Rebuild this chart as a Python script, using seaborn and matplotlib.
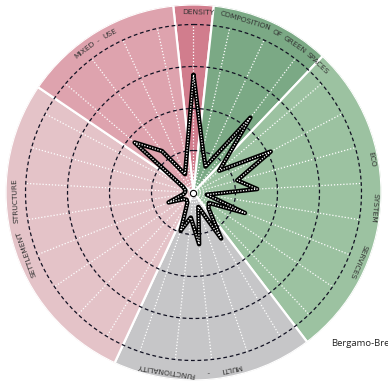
import numpy as np
import pandas as pd
import matplotlib
matplotlib.use("Agg")
import matplotlib.pyplot as plt
import seaborn as sns

# ---- data -------------------------------------------------------------
categories = ["DENSITY", "COMPOSITION OF GREEN SPACES", "ECO SYSTEM SERVICES",
              "MULTI - FUNCTIONALITY", "SETTLEMENT STRUCTURE", "MIXED - USE"]
category_sizes = [1, 3, 8, 5, 8, 4]
category_colors = ["#D17D8D", "#7BA985", "#9CC2A1", "#C6C6C8", "#E4C3C8", "#DEA3AE"]

# indicator scores (0-100), clockwise from north
scores = [70, 26, 17, 56, 20, 52, 27, 38, 8, 33, 11, 13, 32, 9, 31, 15, 24,
          7, 6, 7, 16, 6, 5, 5, 7, 46, 31, 12, 20]

ring_levels = [25, 50, 75, 100]
place_label = "Bergamo-Bre"

# rim label groups: (words, centre bearing deg, radius px)
label_groups = [(["DENSITY"], 1.5, 180),
                (["COMPOSITION", "OF", "GREEN", "SPACES"], 28.3, 179),
                (["ECO"], 79.5, 181), (["SYSTEM"], 95.0, 181), (["SERVICES"], 112.8, 179),
                (["MULTI"], 168.0, 180), (["-"], 175.3, 180), (["FUNCTIONALITY"], 188.8, 180),
                (["SETTLEMENT"], 250.0, 178), (["STRUCTURE"], 267.5, 178),
                (["MIXED"], 322.6, 179), (["-"], 328.0, 179), (["USE"], 332.2, 179)]

# ---- figure -------------------------------------------------------------
sns.set_theme(style="white")
W, H = 388, 382
fig = plt.figure(figsize=(W / 100, H / 100), dpi=100)
cx, cy, R = 193.5, 192.5, 188.0
ax = fig.add_axes([(cx - R) / W, (H - cy - R) / H, 2 * R / W, 2 * R / H],
                  projection="polar")
px_per_unit = 168.0 / 100.0
rmax = R / px_per_unit
ax.set_theta_zero_location("N")
ax.set_theta_direction(-1)
ax.set_ylim(0, rmax)
ax.set_xticks([])
ax.set_yticks([])
ax.grid(False)
ax.spines["polar"].set_visible(False)
ax.patch.set_alpha(0)

n = len(scores)
step = 2 * np.pi / n
thetas = np.arange(n) * step

# sectors
starts = np.cumsum([0] + category_sizes[:-1])
centers = [(s + (c - 1) / 2.0) * step for s, c in zip(starts, category_sizes)]
widths = [c * step for c in category_sizes]
ax.bar(centers, [rmax] * len(centers), width=widths, bottom=0,
       color=category_colors, edgecolor="white", linewidth=1.6, zorder=1)

# spokes
for t in thetas:
    ax.plot([t, t], [0, ring_levels[-1]], color="white", lw=0.9,
            ls=(0, (1, 1.5)), zorder=2)
# rings
tt = np.linspace(0, 2 * np.pi, 600)
for r in ring_levels:
    ax.plot(tt, np.full_like(tt, r), color="#111122", lw=0.9,
            ls=(0, (3, 2.2)), zorder=3)

# radar line
df = pd.DataFrame({"theta": np.append(thetas, thetas[0]),
                   "score": scores + scores[:1]})
sns.lineplot(data=df, x="theta", y="score", sort=False, estimator=None, ax=ax,
             color="black", lw=3.2, zorder=5, solid_joinstyle="round",
             solid_capstyle="round")
sns.lineplot(data=df, x="theta", y="score", sort=False, estimator=None, ax=ax,
             color="white", lw=0.9, ls=(0, (1, 1.2)), zorder=6)
ax.plot([0], [0], marker="o", ms=4.5, mfc="white", mec="black", mew=0.8, zorder=7)
ax.set_xlabel("")
ax.set_ylabel("")
ax.set_ylim(0, rmax)

# labels along the rim: words laid out along the arc using measured widths
renderer = fig.canvas.get_renderer()
font_kw = dict(fontsize=5.4, color="#333333",
               family=["Liberation Sans Narrow", "DejaVu Sans"])
gap_px = 2.5
for words, b_center, rpx in label_groups:
    tmp = [fig.text(0, 0, w, **font_kw) for w in words]
    wpx = [t.get_window_extent(renderer).width for t in tmp]
    for t in tmp:
        t.remove()
    total = sum(wpx) + gap_px * (len(words) - 1)
    pos = -total / 2.0
    for w, wp in zip(words, wpx):
        mid = pos + wp / 2.0
        b = b_center + np.rad2deg(mid / rpx)
        ax.text(np.deg2rad(b), rpx / px_per_unit, w, rotation=-b,
                rotation_mode="anchor", ha="center", va="center", zorder=8,
                **font_kw)
        pos += wp + gap_px

fig.text(331 / W, 1 - 343 / H, place_label, ha="left", va="center", fontsize=6.8,
         color="#222222", family=["Open Sans", "DejaVu Sans"])

fig.savefig("out.png", dpi=100)
